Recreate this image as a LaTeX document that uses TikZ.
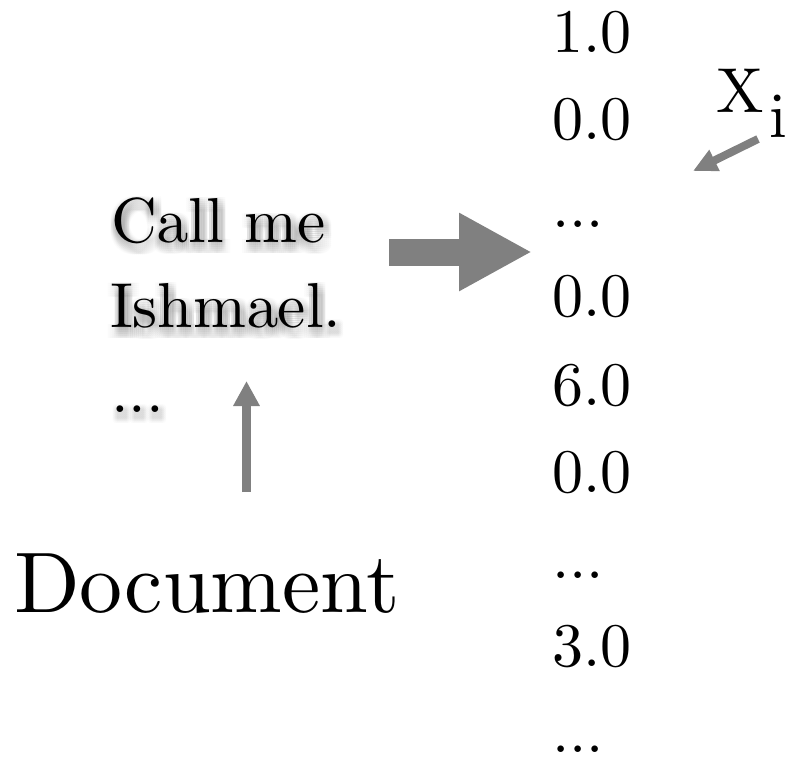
\documentclass[tikz,border=0pt]{standalone}
\usetikzlibrary{arrows.meta}
\definecolor{arrowgray}{RGB}{128,128,128}
\font\fontTxt=cmr10 at 63.5pt
\font\fontNum=cmr10 at 62pt
\font\fontBig=cmr10 at 86pt
\tikzset{
  txt/.style={anchor=base west, inner sep=0pt, outer sep=0pt, font=\fontTxt},
  num/.style={anchor=base west, inner sep=0pt, outer sep=0pt, font=\fontNum},
  big/.style={anchor=base west, inner sep=0pt, outer sep=0pt, font=\fontBig},
  shadowcopy/.style={txt, text=black, opacity=0.014},
  grayarrow/.style={draw=arrowgray, line cap=butt},
}
% a stack of offset copies of a text, drawn as one node, to imitate a blurred shadow
\newcommand\blurstack[1]{\hbox{\foreach \dx in {-6,-4,-2,0,2,4,6}{\foreach \dy in {-6,-4,-2,0,2,4,6}{\rlap{\kern\dx pt\raisebox{-\dy pt}{#1}}}}\phantom{#1}}}
\newcommand\shadowed[4]{% name, x, y, text
  \node[shadowcopy] (#1shadow) at ({#2+2},{#3+5}) {\blurstack{#4}};
  \node[txt] (#1) at (#2,#3) {#4};}
\begin{document}
\begin{tikzpicture}[x=1pt,y=-1pt]
\useasboundingbox (0,0) rectangle (790,760);
% left document text with soft shadow
\shadowed{callme}{111}{242}{Call me}
\shadowed{ishmael}{110}{327}{Ishmael.}
\shadowed{ldots}{111}{412}{...}
\node[big] (document) at (14,612) {Document};
% vector column
\node[num] (v0) at (552,53) {1.0};
\node[num] (v1) at (552,139) {0.0};
\node[num] (v2) at (552,227) {...};
\node[num] (v3) at (552,316) {0.0};
\node[num] (v4) at (552,405) {6.0};
\node[num] (v5) at (552,492) {0.0};
\node[num] (v6) at (552,578) {...};
\node[num] (v7) at (552,666) {3.0};
\node[num] (v8) at (552,752) {...};
% X_i label
\node[txt] (X) at (716,112) {X};
\node[txt] (Xi) at (769,137) {i};
% arrows
\coordinate (bigS) at (389,252);
\coordinate (bigE) at (532,252);
\draw[grayarrow, line width=27pt, -{Triangle[length=73pt,width=73pt]}] (bigS) -- (bigE);
\coordinate (upS) at (246.5,492);
\coordinate (upE) at (246.5,381);
\draw[grayarrow, line width=9pt, -{Triangle[length=25pt,width=25pt]}] (upS) -- (upE);
\coordinate (xS) at (758,139);
\coordinate (xE) at (693,171);
\draw[grayarrow, line width=8pt, -{Triangle[length=24pt,width=22pt]}] (xS) -- (xE);
\end{tikzpicture}
\end{document}
